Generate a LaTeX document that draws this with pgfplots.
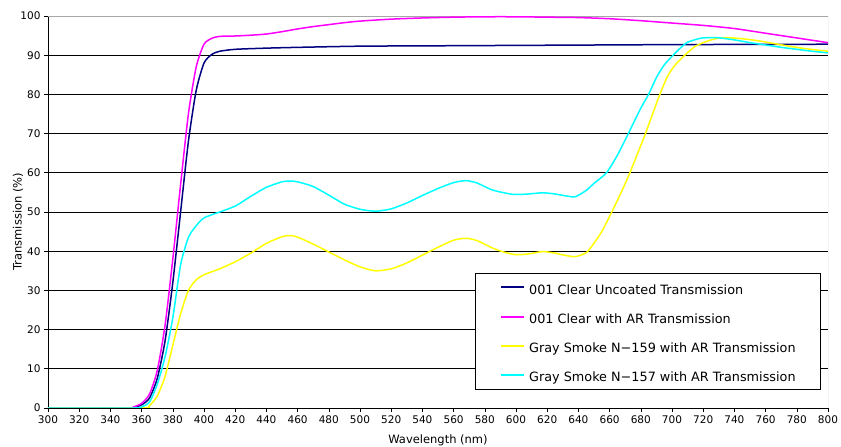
\documentclass[border=0pt]{standalone}
\usepackage{fontspec}
\setmainfont{DejaVu Sans}
\usepackage{pgfplots}
\pgfplotsset{compat=1.18}
\definecolor{navyc}{RGB}{0,0,128}
\definecolor{magc}{RGB}{255,0,255}
\definecolor{yelc}{RGB}{255,255,0}
\definecolor{cyac}{RGB}{0,255,255}
\pgfplotsset{
  every axis plot/.append style={line width=1.5pt},
  legend image code/.code={\draw[#1] (0pt,0pt) -- (23pt,0pt); \path (27pt,0pt);},
}
\begin{document}
\begin{tikzpicture}[x=1pt,y=1pt]
\path[use as bounding box] (-48,-39) rectangle (793,408);
\begin{axis}[
  at={(0,0)}, anchor=south west, scale only axis,
  width=780pt, height=392pt,
  xmin=300, xmax=800, ymin=0, ymax=100,
  xtick distance=20, ytick distance=10,
  axis x line*=bottom, axis y line*=left,
  tick align=outside, major tick length=4pt,
  ymajorgrids, grid style={black, line width=0.6pt},
  axis line style={black, line width=0.8pt, -},
  tick style={black, line width=0.6pt},
  ticklabel style={font=\fontsize{10.5}{12}\selectfont},
  /pgf/number format/assume math mode=true,
  xlabel={Wavelength (nm)}, ylabel={Transmission (\%)},
  label style={font=\fontsize{11.5}{13}\selectfont},
  xlabel style={at={(axis description cs:0.5,-0.0816)}, anchor=center},
  ylabel style={at={(axis description cs:-0.0385,0.475)}, anchor=center},
  legend cell align=left,
  legend image post style={line width=2pt},
  legend style={at={(axis cs:573.7,34.4)}, anchor=north west, draw=black, fill=white,
    font=\fontsize{12.8}{14}\selectfont, inner xsep=25pt, inner ysep=7pt, row sep=15.6pt,
    nodes={inner sep=0pt, text height=13.7pt, text depth=0pt}},
]
\draw[gray!70, line width=0.8pt] (rel axis cs:0,1) -- (rel axis cs:1,1) -- (rel axis cs:1,0);
\addplot[navyc, smooth, tension=0.4] coordinates {
(300,0) (350,0) (355,0.2) (360,0.8) (365,2.5) (370,7.5) (375,17) (380,32) (385,50) (390,68) (395,81) (400,88) (405,90.2) (410,91) (420,91.5) (440,91.8) (460,92) (500,92.3) (550,92.4) (600,92.5) (650,92.6) (700,92.7) (750,92.75) (800,92.8)};
\addlegendentry{001 Clear Uncoated Transmission}
\addplot[magc, smooth, tension=0.4] coordinates {
(300,0) (350,0) (355,0.3) (360,1.2) (365,3.5) (370,9.5) (375,21) (380,38) (385,57) (390,75) (395,87) (400,92.8) (405,94.3) (410,94.8) (420,94.9) (430,95.1) (440,95.4) (450,96) (460,96.7) (470,97.3) (480,97.8) (490,98.3) (500,98.7) (520,99.2) (540,99.5) (560,99.7) (580,99.8) (600,99.8) (620,99.7) (640,99.6) (660,99.3) (680,98.8) (700,98.2) (720,97.6) (740,96.8) (760,95.6) (780,94.4) (800,93.2)};
\addlegendentry{001 Clear with AR Transmission}
\addplot[yelc, smooth, tension=0.4] coordinates {
(300,0) (360,0) (365,0.6) (370,3) (375,8) (380,16) (385,24) (390,30) (395,32.7) (400,34) (410,35.5) (420,37.3) (430,39.5) (440,42) (450,43.7) (455,44) (460,43.6) (470,41.8) (480,39.8) (490,37.8) (500,36) (510,35) (520,35.5) (530,37) (540,39) (550,41) (560,42.8) (568,43.3) (575,42.7) (585,40.8) (592,39.8) (600,39.1) (608,39.3) (617,39.9) (625,39.5) (632,38.9) (638,38.6) (645,39.6) (649,41.5) (655,45) (662,50.5) (668,55.5) (673,60) (678,65) (683,70) (688,75.5) (692,79.8) (697,84.5) (702,87.5) (709,90.3) (715,92.3) (722,93.5) (729,94.3) (735,94.5) (745,94.2) (755,93.7) (765,93) (775,92.3) (785,91.7) (800,91)};
\addlegendentry{Gray Smoke N−159 with AR Transmission}
\addplot[cyac, smooth, tension=0.4] coordinates {
(300,0) (355,0) (360,0.3) (365,1.5) (370,6) (375,13) (380,23) (385,36.5) (390,43.5) (395,46.5) (400,48.5) (410,50) (420,51.5) (430,54) (440,56.3) (450,57.7) (455,57.9) (460,57.7) (470,56.5) (480,54.3) (490,52) (500,50.7) (510,50.2) (520,50.8) (530,52.3) (540,54.2) (550,56) (560,57.5) (568,58) (575,57.4) (585,55.6) (598,54.5) (608,54.6) (617,54.9) (625,54.6) (632,54.1) (638,53.9) (645,55.5) (650,57.3) (658,60) (665,64.5) (672,70) (680,76.5) (685,80) (690,84.3) (695,87.5) (700,89.7) (705,91.7) (710,93.3) (718,94.3) (725,94.5) (731,94.4) (740,93.9) (750,93.2) (760,92.6) (770,92) (780,91.5) (790,91) (800,90.6)};
\addlegendentry{Gray Smoke N−157 with AR Transmission}
\end{axis}
\end{tikzpicture}
\end{document}
